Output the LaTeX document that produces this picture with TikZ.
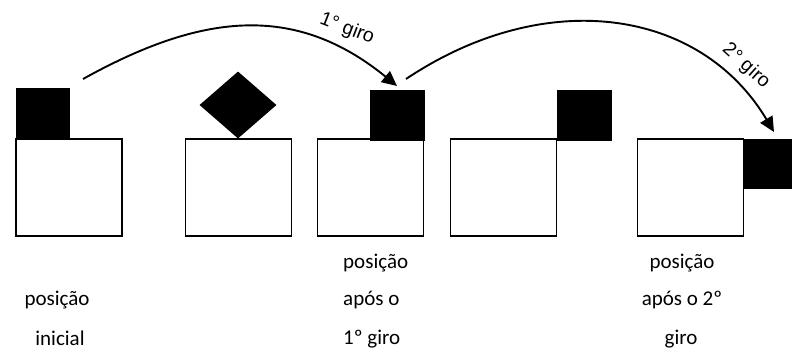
\documentclass[tikz,border=0pt]{standalone}
\usepackage{fontspec}
\setmainfont{Carlito}
\newfontfamily\arcfont{Liberation Sans}
\usetikzlibrary{arrows.meta,shapes.geometric}

\begin{document}
\begin{tikzpicture}[x=1pt,y=-1pt,
  base/.style={draw=black, line width=1.7pt, fill=white, inner sep=0pt,
               minimum width=106pt, minimum height=97pt},
  blk/.style={fill=black, inner sep=0pt, minimum width=55pt, minimum height=51pt},
  turn/.style={line width=1.9pt, -{Triangle[length=15pt,width=14pt]}},
  turnlabel/.style={font=\arcfont\fontsize{19.5}{19.5}\selectfont, inner sep=0pt},
  caption/.style={font=\fontsize{21}{21}\selectfont, inner sep=0pt, anchor=base}]
\clip (0,0) rectangle (792,356);
\fill[white] (0,0) rectangle (792,356);

% the five positions of the big square
\node[base] (w1) at (69,187.5) {};
\node[base] (w2) at (238.5,187.5) {};
\node[base] (w3) at (370.5,187.5) {};
\node[base] (w4) at (503.5,187.5) {};
\node[base] (w5) at (690.5,187.5) {};

% the small black square in each position
\node[blk, minimum width=54pt, minimum height=50.5pt] (b1) at (43,113.5) {};
\node[diamond, fill=black, inner sep=0pt, minimum width=77pt, minimum height=67pt] (b2) at (238,105) {};
\node[blk] (b3) at (397.5,115) {};
\node[blk] (b4) at (584.5,115) {};
\node[blk, minimum height=50pt] (b5) at (771.5,164) {};

% turning arrows
\coordinate (s1) at (83,79);
\coordinate (e1) at (397,86);
\coordinate (s2) at (406,79);
\coordinate (e2) at (774,132);
\draw[turn] (s1) .. controls (200,14) and (294,2) .. (e1);
\draw[turn] (s2) .. controls (545,-14) and (700,8) .. (e2);
\node[turnlabel, rotate=-21] (t1) at (347,29) {1° giro};
\node[turnlabel, rotate=-42] (t2) at (746,66) {2° giro};

% captions
\node[caption] (c1a) at (57,305) {posição};
\node[caption] (c1b) at (60,345) {inicial};
\node[caption, anchor=base west] (c3a) at (343,268) {posição};
\node[caption, anchor=base west] (c3b) at (343,305) {após o};
\node[caption, anchor=base west] (c3c) at (343,344) {1º giro};
\node[caption] (c5a) at (682,268) {posição};
\node[caption] (c5b) at (682,305) {após o 2º};
\node[caption] (c5c) at (681,344) {giro};
\end{tikzpicture}
\end{document}
